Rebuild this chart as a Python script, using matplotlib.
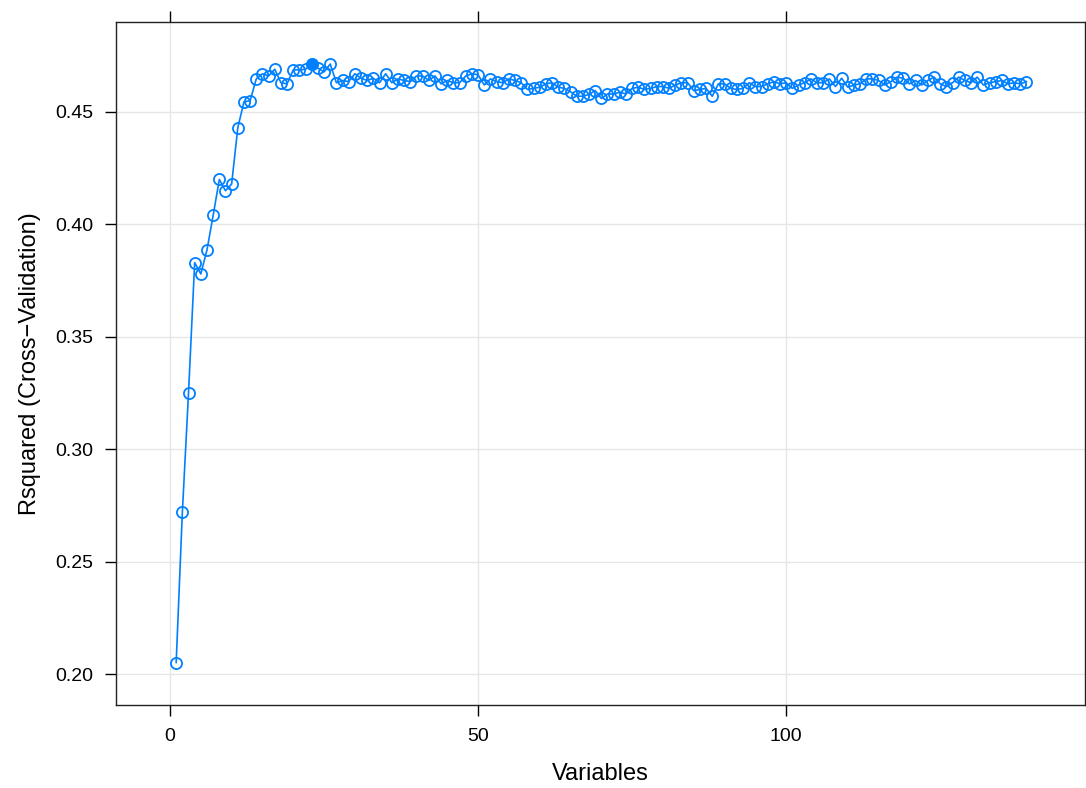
import numpy as np
import matplotlib
matplotlib.use('Agg')
import matplotlib.pyplot as plt

plt.rcParams['font.family'] = ['Liberation Sans', 'DejaVu Sans']

# number of variables kept at each step of the search
variables = list(range(1, 140))

# cross-validated Rsquared
rsquared = [
    0.2053, 0.2720, 0.3250, 0.3830, 0.3780, 0.3887, 0.4040, 0.4200, 0.4150, 0.4180,
    0.4430, 0.4545, 0.4550, 0.4647, 0.4670, 0.4660, 0.4690, 0.4630, 0.4625, 0.4687,
    0.4687, 0.4690, 0.4713, 0.4695, 0.4678, 0.4713, 0.4630, 0.4640, 0.4635, 0.4670,
    0.4650, 0.4640, 0.4650, 0.4630, 0.4670, 0.4630, 0.4647, 0.4640, 0.4635, 0.4660,
    0.4660, 0.4640, 0.4660, 0.4625, 0.4640, 0.4630, 0.4630, 0.4660, 0.4670, 0.4665,
    0.4620, 0.4647, 0.4635, 0.4630, 0.4647, 0.4640, 0.4630, 0.4600, 0.4605, 0.4610,
    0.4625, 0.4630, 0.4610, 0.4605, 0.4590, 0.4570, 0.4570, 0.4578, 0.4595, 0.4560,
    0.4580, 0.4580, 0.4588, 0.4580, 0.4605, 0.4610, 0.4600, 0.4605, 0.4613, 0.4613,
    0.4605, 0.4620, 0.4630, 0.4630, 0.4595, 0.4600, 0.4605, 0.4570, 0.4625, 0.4625,
    0.4605, 0.4600, 0.4605, 0.4630, 0.4613, 0.4613, 0.4625, 0.4635, 0.4625, 0.4630,
    0.4605, 0.4620, 0.4630, 0.4647, 0.4630, 0.4630, 0.4647, 0.4613, 0.4650, 0.4610,
    0.4620, 0.4625, 0.4647, 0.4647, 0.4640, 0.4620, 0.4635, 0.4655, 0.4650, 0.4625,
    0.4640, 0.4620, 0.4640, 0.4655, 0.4625, 0.4613, 0.4630, 0.4655, 0.4640, 0.4630,
    0.4655, 0.4620, 0.4630, 0.4635, 0.4640, 0.4625, 0.4630, 0.4625, 0.4635,
]

xticks = [0, 50, 100]
yticks = [0.20, 0.25, 0.30, 0.35, 0.40, 0.45]

blue = '#0080FF'

fig = plt.figure(figsize=(10.86, 7.88), dpi=100)
ax = fig.add_axes([0.1068, 0.1053, 0.8923, 0.8668])

ax.plot(variables, rsquared, color=blue, lw=1.2, marker='o', ms=8,
        mfc='none', mec=blue, mew=1.3, zorder=3)

# best subset gets a filled dot
best = int(np.argmax(rsquared))
ax.plot(variables[best], rsquared[best], 'o', color=blue, ms=8, zorder=4)

ax.set_xlim(-8.77, 148.5)
ax.set_ylim(0.1864, 0.490)
ax.set_xticks(xticks)
ax.set_yticks(yticks)
ax.set_yticklabels(['%.2f' % v for v in yticks])
ax.grid(True, color='#E6E6E6', lw=1.0, zorder=0)
ax.set_axisbelow(True)

ax.tick_params(axis='x', direction='out', length=8, width=1.0, labelsize=14,
               top=True, labeltop=False, pad=8.5)
ax.tick_params(axis='y', direction='out', length=8, width=1.0, labelsize=14,
               right=False, pad=8.5)
for s in ax.spines.values():
    s.set_linewidth(1.0)
    s.set_color('#222222')

ax.set_xlabel('Variables', fontsize=17, labelpad=13)
ax.set_ylabel('Rsquared (Cross\u2212Validation)', fontsize=17, labelpad=10)

fig.savefig('out.png', dpi=100)
